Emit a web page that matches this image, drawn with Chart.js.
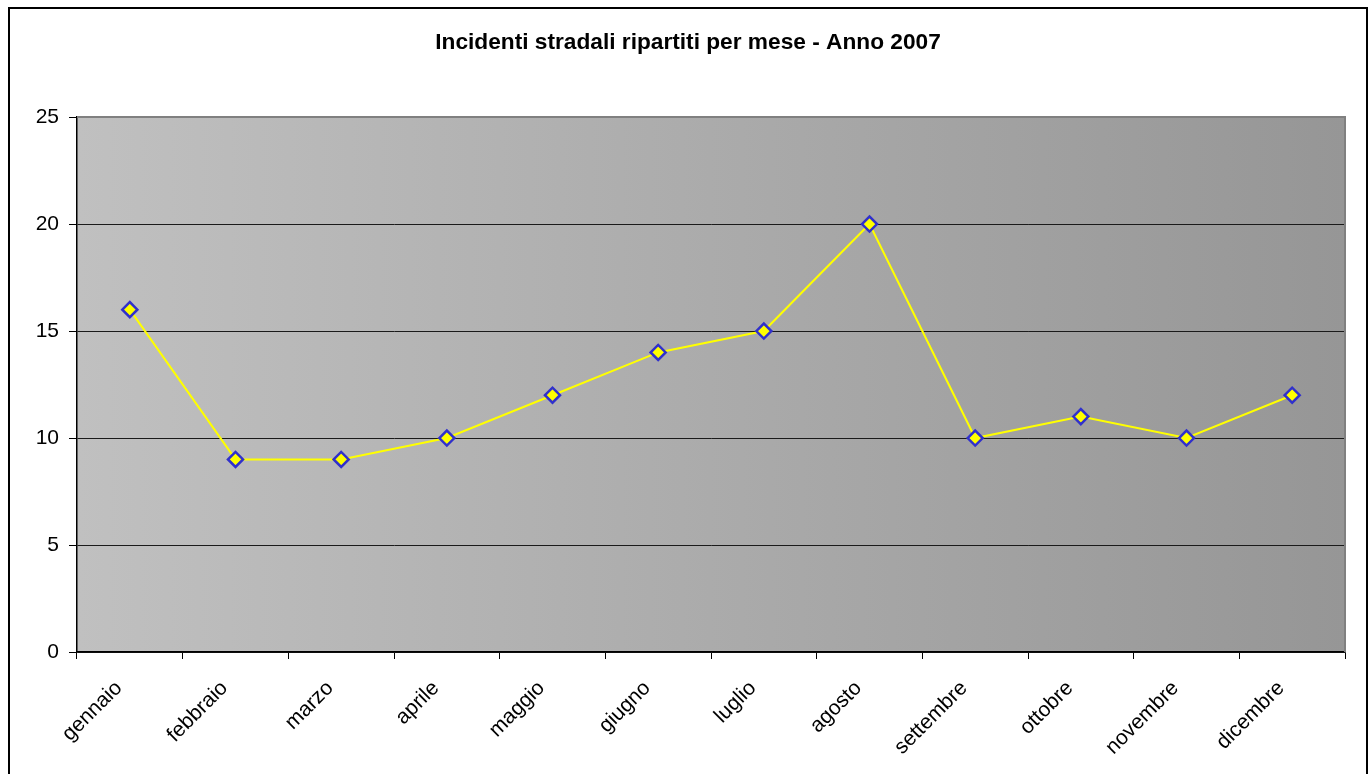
<!DOCTYPE html>
<html>
<head>
<meta charset="utf-8">
<script src="https://cdn.jsdelivr.net/npm/chart.js@4/dist/chart.umd.min.js"></script>
<style>
  html, body { margin: 0; padding: 0; background: #fff; overflow: hidden; }
  #frame { position: absolute; left: 8px; top: 7px; width: 1360px; height: 800px; border: 2px solid #000; box-sizing: border-box; }
  #wrap { position: absolute; left: 0; top: 0; width: 1371px; height: 774px; }
</style>
</head>
<body>
<div id="frame"></div>
<div id="wrap"><canvas id="chart"></canvas></div>
<script>
const months = ['gennaio', 'febbraio', 'marzo', 'aprile', 'maggio', 'giugno', 'luglio', 'agosto', 'settembre', 'ottobre', 'novembre', 'dicembre'];
const incidents = [16, 9, 9, 10, 12, 14, 15, 20, 10, 11, 10, 12];
const yTicks = [0, 5, 10, 15, 20, 25];
const title = 'Incidenti stradali ripartiti per mese - Anno 2007';

// gradient plot area + gray top/right border
const plotBackground = {
  id: 'plotBackground',
  afterLayout(chart) {
    // title is centred on the whole sheet, not on the space left of the right padding
    if (chart.titleBlock) chart.titleBlock.right = chart.width + 5;
  },
  beforeDraw(chart) {
    const { ctx, chartArea: a } = chart;
    const g = ctx.createLinearGradient(a.left, 0, a.right, 0);
    g.addColorStop(0, '#c0c0c0');
    g.addColorStop(1, '#969696');
    ctx.save();
    ctx.fillStyle = g;
    ctx.fillRect(a.left, a.top, a.right - a.left, a.bottom - a.top);
    ctx.restore();
  },
  afterDraw(chart) {
    const { ctx, chartArea: a } = chart;
    ctx.save();
    ctx.strokeStyle = '#808080';
    ctx.lineWidth = 2;
    ctx.beginPath();
    ctx.moveTo(a.left, a.top);
    ctx.lineTo(a.right, a.top);
    ctx.lineTo(a.right, a.bottom);
    ctx.stroke();
    ctx.restore();
  }
};

const ctx = document.getElementById('chart');
new Chart(ctx, {
  type: 'line',
  data: {
    labels: months,
    datasets: [{
      label: 'Incidenti',
      data: incidents,
      borderColor: '#ffff00',
      borderWidth: 2,
      tension: 0,
      pointStyle: 'rectRot',
      pointRadius: 7.5,
      pointBackgroundColor: '#ffff00',
      pointBorderColor: '#3030cc',
      pointBorderWidth: 2.5
    }]
  },
  options: {
    responsive: true,
    maintainAspectRatio: false,
    animation: false,
    layout: { padding: { left: 0, right: 26, top: 0, bottom: 0 } },
    plugins: {
      legend: { display: false },
      tooltip: { enabled: false },
      title: {
        display: true,
        text: title,
        color: '#000',
        font: { family: 'Liberation Sans, Arial, sans-serif', size: 22.7, weight: 'bold' },
        padding: { top: 29.5, bottom: 60.3 }
      }
    },
    scales: {
      x: {
        offset: true,
        grid: { offset: true, drawOnChartArea: false, tickLength: 7, tickColor: '#000' },
        border: { color: '#000', width: 1.5 },
        ticks: {
          minRotation: 45, maxRotation: 45, padding: 17, labelOffset: -11,
          color: '#000',
          font: { family: 'Liberation Sans, Arial, sans-serif', size: 21 }
        },
        afterFit(scale) { scale.height = 122; }
      },
      y: {
        min: yTicks[0],
        max: yTicks[yTicks.length - 1],
        afterBuildTicks(scale) { scale.ticks = yTicks.map(v => ({ value: v })); },
        grid: {
          color: c => (c.tick && c.tick.value === 25) ? 'transparent' : '#1a1a1a',
          tickColor: '#000',
          tickLength: 8,
          lineWidth: 1
        },
        border: { color: '#000', width: 1.5 },
        ticks: {
          padding: 10,
          color: '#000',
          font: { family: 'Liberation Sans, Arial, sans-serif', size: 21 }
        },
        afterFit(scale) { scale.width = 77; }
      }
    }
  },
  plugins: [plotBackground]
});
</script>
</body>
</html>
